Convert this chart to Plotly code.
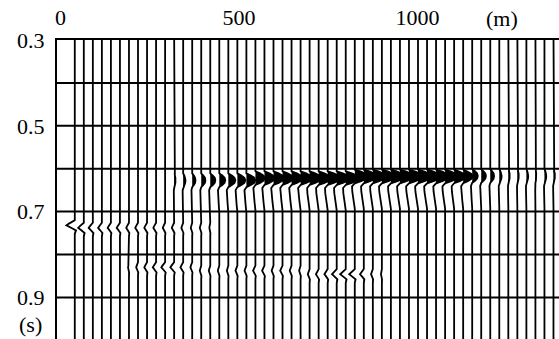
import plotly.graph_objects as go

# ---------------- data ----------------
n_traces = 54
trace_spacing_m = 25.3
first_trace_m = 40.0
trace_offset_m = [first_trace_m + trace_spacing_m * i for i in range(n_traces)]

# Event A: strong reflection near 0.62 s (relative amplitude, 1 = strongest)
evA_amp = [0, 0, 0, 0, 0, 0, 0, 0, 0, 0,
           0, 0.11, 0.18, 0.25, 0.32, 0.39, 0.46, 0.54, 0.61, 0.68,
           0.71, 0.75, 0.79, 0.79, 0.82, 0.86, 0.86, 0.89, 0.93, 0.93,
           0.93, 0.96, 0.96, 0.96, 1.0, 1.0, 1.0, 1.0, 1.0, 1.0,
           0.96, 0.93, 0.86, 0.71, 0.43, 0.36, 0.29, 0.18, 0.11, 0.11,
           0.14, 0.07, 0.14, 0.11]
evA_time = [0.627] * 20 + [0.622] * 11 + [0.618] * 13 + [0.617] * 10

# Event B: near 0.73 s on the left (negative)
evB_amp = [0.64, 0.43, 0.32, 0.29, 0.25, 0.25, 0.21, 0.21, 0.21, 0.21,
           0.18, 0.18, 0.14, 0.11, 0.11, 0.07] + [0] * 38
evB_time = [0.732] + [0.738] * 53

# Event C: near 0.84 s (negative)
evC_amp = [0, 0, 0, 0, 0, 0, 0.07, 0.14, 0.21, 0.25,
           0.29, 0.29, 0.21, 0.14, 0.11, 0.11, 0.11, 0.11, 0.14, 0.14,
           0.18, 0.18, 0.14, 0.18, 0.14, 0.11, 0.14, 0.21, 0.25, 0.36,
           0.43, 0.43, 0.29, 0.14, 0.07] + [0] * 19
evC_time = [0.83] * 14 + [0.838] * 12 + [0.846] * 28

# wavelet shapes (relative time s, relative amplitude)
wav_main_t = [-0.016, -0.011, -0.006, 0.0, 0.006, 0.011, 0.016, 0.023, 0.035, 0.055, 0.075]
wav_main_a = [0.0, 0.5, 0.88, 1.0, 0.88, 0.5, 0.0, -0.22, -0.2, -0.1, 0.0]
wav_spike_t = [-0.012, -0.004, 0.0, 0.005, 0.012, 0.020]
wav_spike_a = [0.0, -0.7, -1.0, -0.5, 0.15, 0.0]

grid_times = [0.4, 0.5, 0.6, 0.7, 0.8, 0.9, 1.0]
x_tick_vals = [0, 500, 1000]
x_tick_text = ["0", "500", "1000"]
y_tick_vals = [0.3, 0.5, 0.7, 0.9]
y_tick_text = ["0.3", "0.5", "0.7", "0.9"]

# ---------------- display ----------------
PX_PER_M = 0.357
GAIN_M = 13 / PX_PER_M   # amplitude 1.0 -> 13 px
T_MIN, T_MAX = 0.3, 0.997
X_MIN = (57 - 60.5) / PX_PER_M
X_MAX = X_MIN + 502 / PX_PER_M
FONT = "Liberation Serif"
FS = 22


def trace_knots(i):
    ts, ds = [0.28], [0.0]
    events = [(evA_time[i], evA_amp[i], wav_main_t, wav_main_a),
              (evB_time[i], evB_amp[i], wav_spike_t, wav_spike_a),
              (evC_time[i], evC_amp[i], wav_spike_t, wav_spike_a)]
    for t0, amp, wt, wa in sorted(events, key=lambda e: e[0]):
        if amp <= 0:
            continue
        for dt, a in zip(wt, wa):
            ts.append(t0 + dt)
            ds.append(amp * a)
    ts.append(1.02)
    ds.append(0.0)
    return ts, ds


def positive_parts(ts, ds):
    polys, cur = [], []
    for k in range(len(ts)):
        t, d = ts[k], ds[k]
        if k > 0:
            t0, d0 = ts[k - 1], ds[k - 1]
            if (d0 > 0) != (d > 0) and d0 != d:
                tc = t0 + (0 - d0) * (t - t0) / (d - d0)
                cur.append((tc, 0.0))
                if not d > 0:
                    polys.append(cur)
                    cur = []
        if d > 0:
            cur.append((t, d))
    if cur:
        polys.append(cur)
    return polys


line_x, line_y, fill_x, fill_y = [], [], [], []
for i in range(n_traces):
    ts, ds = trace_knots(i)
    base = trace_offset_m[i]
    line_x += [base + GAIN_M * d for d in ds] + [None]
    line_y += ts + [None]
    for poly in positive_parts(ts, ds):
        fill_x += [base + GAIN_M * d for _, d in poly] + [None]
        fill_y += [t for t, _ in poly] + [None]

fig = go.Figure()
fig.add_trace(go.Scatter(x=fill_x, y=fill_y, mode="lines", fill="toself",
                         fillcolor="black", line=dict(width=0.5, color="black"),
                         hoverinfo="skip", showlegend=False))
fig.add_trace(go.Scatter(x=line_x, y=line_y, mode="lines",
                         line=dict(color="black", width=1.8),
                         hoverinfo="skip", showlegend=False))

for t in grid_times:
    fig.add_shape(type="line", xref="paper", x0=0, x1=1, yref="y", y0=t, y1=t,
                  line=dict(color="black", width=2))

fig.add_annotation(text="(m)", xref="x", x=(502 - 60.5) / PX_PER_M, yref="paper", y=1,
                   yanchor="middle", yshift=22, showarrow=False,
                   font=dict(family=FONT, size=FS, color="black"))
fig.add_annotation(text="(s)", xref="paper", x=0, xanchor="right", xshift=-13,
                   yref="y", y=0.964, yanchor="middle", showarrow=False,
                   font=dict(family=FONT, size=FS, color="black"))

fig.update_layout(
    width=559, height=339,
    margin=dict(l=57, r=0, t=40, b=0, pad=0),
    paper_bgcolor="white", plot_bgcolor="white",
    font=dict(family=FONT, size=FS, color="black"),
    xaxis=dict(range=[X_MIN, X_MAX], side="top", tickvals=x_tick_vals, ticktext=x_tick_text,
               showgrid=False, zeroline=False, showline=True, linecolor="black", linewidth=2,
               ticks="outside", ticklen=4, tickcolor="rgba(0,0,0,0)", fixedrange=True,
               automargin=False),
    yaxis=dict(range=[T_MAX, T_MIN], tickvals=y_tick_vals, ticktext=y_tick_text,
               showgrid=False, zeroline=False, showline=True, linecolor="black", linewidth=2,
               ticks="outside", ticklen=6, tickcolor="rgba(0,0,0,0)", fixedrange=True,
               automargin=False),
)

fig.write_html("out.html", config={"displayModeBar": False},
               post_script="document.body.style.margin='0';document.body.style.overflow='hidden';")
